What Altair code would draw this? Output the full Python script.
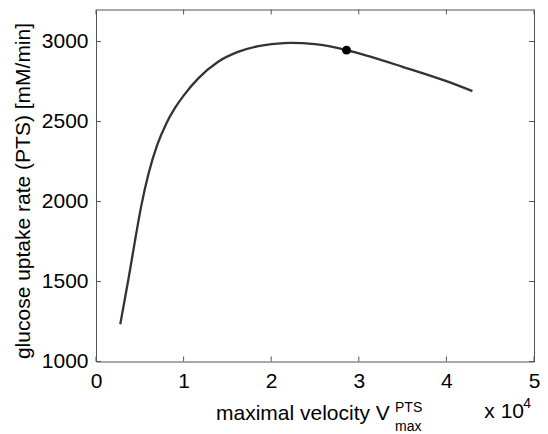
import altair as alt
import pandas as pd

# Curve: maximal velocity (in units of 1e4) vs glucose uptake rate
vmax = [0.277, 0.372, 0.45, 0.514, 0.60, 0.70, 0.80, 0.90, 1.0, 1.165, 1.39,
        1.62, 1.84, 2.07, 2.22, 2.5, 2.86, 3.09, 3.5, 4.0, 4.297]
uptake = [1233, 1520, 1770, 1965, 2175, 2355, 2485, 2583, 2662, 2768, 2872,
          2935, 2970, 2987, 2991, 2983, 2946, 2912, 2842, 2752, 2690]

# Marked operating point
point_vmax = [2.86]
point_uptake = [2946]

x_ticks = [0, 1, 2, 3, 4, 5]
y_ticks = [1000, 1500, 2000, 2500, 3000]

W, H = 438, 352
FONT = "Liberation Sans"
FRAME = "#555555"

curve = pd.DataFrame({"v": vmax, "u": uptake})
pt = pd.DataFrame({"v": point_vmax, "u": point_uptake})
xt = pd.DataFrame({"v": x_ticks})
yt = pd.DataFrame({"u": y_ticks})

xscale = alt.Scale(domain=[0, 5], nice=False, zero=False)
yscale = alt.Scale(domain=[1000, 3200], nice=False, zero=False)

xaxis = alt.Axis(
    values=x_ticks, title=None, grid=False, ticks=False, domain=False,
    labelFont=FONT, labelFontSize=21, labelColor="black", labelFlush=False,
    labelOverlap=False,
    labelBaseline="alphabetic", labelPadding=25.5, format="d")
yaxis = alt.Axis(
    values=y_ticks, title="glucose uptake rate (PTS) [mM/min]",
    grid=False, ticks=False, domain=False,
    labelFont=FONT, labelFontSize=21, labelColor="black", labelFlush=False,
    labelOverlap=False,
    labelPadding=8, format="d",
    titleFont=FONT, titleFontSize=21, titleFontWeight="normal",
    titleColor="black", titleX=-67, titleY=181, titleAlign="center",
    titleBaseline="alphabetic", titleAngle=270)

X = alt.X("v:Q", scale=xscale, axis=xaxis)
Y = alt.Y("u:Q", scale=yscale, axis=yaxis)

line = alt.Chart(curve).mark_line(
    color="#333333", strokeWidth=2.3, interpolate="monotone"
).encode(x=X, y=Y)

dot = alt.Chart(pt).mark_circle(color="black", opacity=1, size=80).encode(x=X, y=Y)

TL = 5
xb = alt.Chart(xt).mark_rule(color=FRAME, strokeWidth=1).encode(
    x=X, y=alt.value(H), y2=alt.value(H - TL))
xtop = alt.Chart(xt).mark_rule(color=FRAME, strokeWidth=1).encode(
    x=X, y=alt.value(0), y2=alt.value(TL))
yl = alt.Chart(yt).mark_rule(color=FRAME, strokeWidth=1).encode(
    y=Y, x=alt.value(0), x2=alt.value(TL))
yr = alt.Chart(yt).mark_rule(color=FRAME, strokeWidth=1).encode(
    y=Y, x=alt.value(W - TL), x2=alt.value(W))

one = pd.DataFrame({"k": [0]})


def label(txt, x, y, size, align="left"):
    return alt.Chart(one).mark_text(
        text=txt, font=FONT, fontSize=size, color="black",
        align=align, baseline="alphabetic"
    ).encode(x=alt.value(x), y=alt.value(y))


xt_main = label("maximal velocity V", 120, 410, 21)
xt_sup = label("PTS", 299, 402.5, 14)
xt_sub = label("max", 299, 421.5, 14)
mult = label("x 10", 428, 408.5, 21, align="right")
mult_exp = label("4", 435, 398.5, 14, align="right")

chart = alt.layer(
    line, dot, xb, xtop, yl, yr, xt_main, xt_sup, xt_sub, mult, mult_exp
).properties(
    width=W, height=H,
    autosize=alt.AutoSizeParams(type="none"),
    padding={"left": 88, "top": 1.5, "right": 6, "bottom": 74},
    background="white",
).configure_view(stroke=FRAME, strokeWidth=1)

chart.save("out.html", embed_options={"renderer": "svg", "actions": False})
